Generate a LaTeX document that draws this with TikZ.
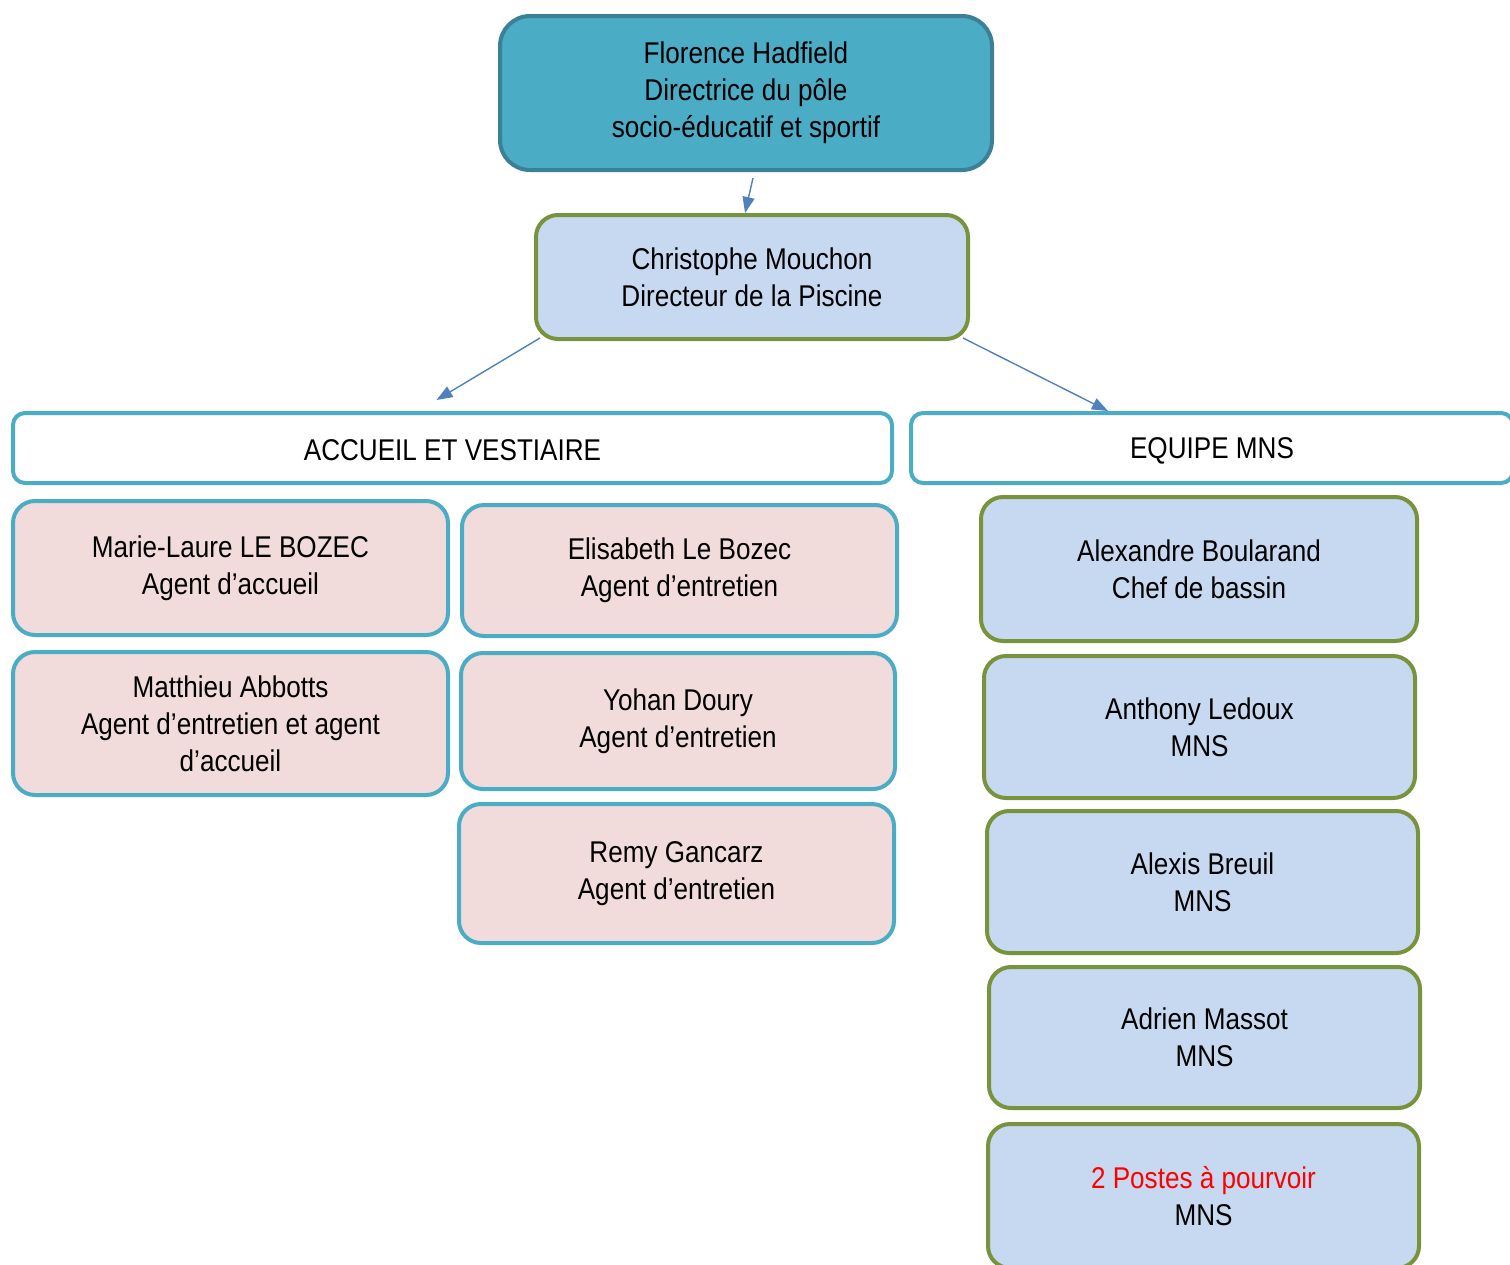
\documentclass[tikz,border=0pt]{standalone}
\usepackage{fontspec}
\setmainfont{Liberation Sans}[FakeStretch=0.87]
\usetikzlibrary{arrows.meta}
\definecolor{teal1}{HTML}{4BACC6}
\definecolor{teal2}{HTML}{3B8094}
\definecolor{olive}{HTML}{77933C}
\definecolor{bluefill}{HTML}{C6D9F1}
\definecolor{pinkfill}{HTML}{F2DCDB}
\definecolor{arrblue}{HTML}{4F81BD}
\begin{document}
\begin{tikzpicture}[x=0.5pt,y=-0.5pt,
  every node/.style={align=center,inner sep=0pt,font=\fontsize{15}{18.5}\selectfont,
    execute at begin node={\rule{0pt}{0.86em}}},
  boss/.style={draw=teal2,fill=teal1,line width=2pt,rounded corners=15pt},
  chef/.style={draw=olive,fill=bluefill,line width=2pt,rounded corners=11pt},
  head/.style={draw=teal1,fill=white,line width=2pt,rounded corners=6pt},
  agent/.style={draw=teal1,fill=pinkfill,line width=2pt,rounded corners=11pt},
  arr/.style={draw=arrblue,line width=0.7pt,-{Triangle[length=8pt,width=6pt]}}]

\useasboundingbox (0,0) rectangle (1510,1264);

\node[boss,minimum width=246pt,minimum height=77pt] (top) at (746,93)
  {Florence Hadfield\\Directrice du pôle\\socio-éducatif et sportif};
\node[chef,minimum width=216pt,minimum height=62pt] (chris) at (752,277)
  {Christophe Mouchon\\Directeur de la Piscine};

\node[head,minimum width=439.5pt,minimum height=35pt] (accueil) at (452.5,448) {ACCUEIL ET VESTIAIRE};
\node[head,minimum width=301pt,minimum height=35pt] (equipe) at (1212,448) {EQUIPE MNS};

% accueil et vestiaire
\node[agent,minimum width=217.5pt,minimum height=67pt] (marie) at (230.5,568)
  {Marie-Laure LE BOZEC\\Agent d’accueil};
\node[agent,minimum width=217.5pt,minimum height=65.5pt] (elisabeth) at (679.5,570.5)
  {Elisabeth Le Bozec\\Agent d’entretien};
\node[agent,minimum width=217.5pt,minimum height=71.5pt] (matthieu) at (230.5,723.5)
  {Matthieu Abbotts\\Agent d’entretien et agent\\d’accueil};
\node[agent,minimum width=217pt,minimum height=68pt] (yohan) at (678,721)
  {Yohan Doury\\Agent d’entretien};
\node[agent,minimum width=217.5pt,minimum height=69.5pt] (remy) at (676.5,873.5)
  {Remy Gancarz\\Agent d’entretien};

% equipe MNS
\node[chef,minimum width=218pt,minimum height=72pt] (alexandre) at (1199,569)
  {Alexandre Boularand\\Chef de bassin};
\node[chef,minimum width=215.5pt,minimum height=71pt] (anthony) at (1199.5,727)
  {Anthony Ledoux\\MNS};
\node[chef,minimum width=215.5pt,minimum height=71pt] (alexis) at (1202.5,882)
  {Alexis Breuil\\MNS};
\node[chef,minimum width=215.5pt,minimum height=70.5pt] (adrien) at (1204.5,1037.5)
  {Adrien Massot\\MNS};
\node[chef,minimum width=215.5pt,minimum height=72pt] (postes) at (1203.5,1196)
  {\textcolor{red}{2 Postes à pourvoir}\\MNS};

\draw[arr] ([shift={(3.5pt,-3pt)}]top.south) -- ([xshift=-3.5pt]chris.north);
\draw[arr] ([shift={(3pt,1.5pt)}]chris.south west) -- ([shift={(-8pt,5.5pt)}]accueil.north);
\draw[arr] ([shift={(-3.5pt,1.5pt)}]chris.south east) -- ([xshift=-52pt]equipe.north);

\end{tikzpicture}
\end{document}
